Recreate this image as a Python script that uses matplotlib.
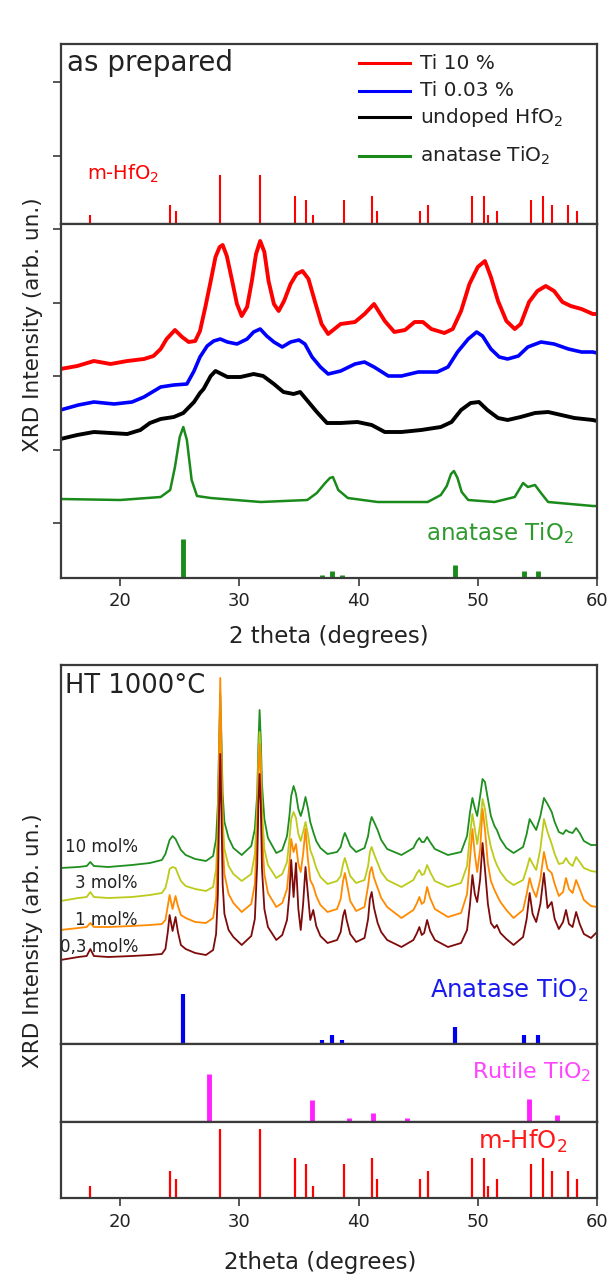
import numpy as np
import matplotlib
matplotlib.use('Agg')
import matplotlib.pyplot as plt

FIG_W, FIG_H = 609, 1277

# ---- reference patterns: 2theta (deg) and relative intensity (%) ----
HFO2_POS = [17.47, 24.16, 24.66, 28.36, 31.70, 34.63, 35.58, 36.20, 38.80, 41.09, 41.57,
            45.16, 45.81, 49.55, 50.50, 50.89, 51.65, 54.44, 55.50, 56.24, 57.56, 58.34]
HFO2_REL = [18, 39, 27, 100, 100, 58, 49, 18, 49, 58, 27,
            27, 39, 58, 58, 18, 27, 49, 58, 39, 39, 27]
ANATASE_POS = [25.28, 36.95, 37.80, 38.58, 48.05, 53.89, 55.06]
ANATASE_REL = [100, 8, 18, 8, 34, 18, 18]
RUTILE_POS = [27.45, 36.09, 39.19, 41.24, 44.05, 54.32, 56.64]
RUTILE_REL = [100, 46, 8, 19, 8, 48, 15]

# ---- as prepared powders (arb. un.) ----
TI10_2T = [15, 16.4, 17.8, 19.2, 20.6, 22.0, 22.8, 23.4, 23.9, 24.6, 25.2, 25.75, 26.3, 26.7,
           27.15, 27.6, 28.0, 28.35, 28.6, 28.95, 29.4, 29.8, 30.2, 30.65, 31.05, 31.4, 31.75,
           32.1, 32.45, 32.9, 33.3, 33.75, 34.3, 34.8, 35.3, 35.8, 36.4, 36.9, 37.45, 38.5,
           39.7, 40.5, 41.3, 42.2, 43.0, 43.9, 44.7, 45.4, 46.1, 47.2, 47.9, 48.6, 49.3, 50.0,
           50.6, 51.1, 51.7, 52.4, 53.1, 53.6, 54.3, 55.0, 55.7, 56.4, 57.1, 57.8, 58.7,
           59.65, 60]
TI10_I = [209, 212, 217, 214, 217, 219, 222, 229, 239, 248, 241, 236, 237, 247,
          271, 297, 321, 331, 333, 322, 297, 274, 262, 271, 297, 324, 337,
          326, 297, 274, 267, 277, 294, 304, 307, 299, 274, 254, 244, 254,
          256, 264, 274, 257, 246, 248, 256, 256, 249, 245, 249, 267, 294, 311,
          317, 301, 277, 257, 249, 254, 276, 287, 292, 287, 276, 272, 269,
          264, 264]

TI003_2T = [15, 16.5, 17.8, 19.5, 21, 22, 23.4, 24.5, 25.6, 26.2, 26.7, 27.3, 27.85, 28.4,
            29.0, 29.8, 30.65, 31.2, 31.75, 32.3, 32.9, 33.6, 34.3, 35.0, 35.5, 36.1, 36.8,
            37.45, 38.5, 39.7, 40.5, 41.3, 42.5, 43.6, 45.0, 46.6, 47.5, 48.3, 49.2, 49.9,
            50.4, 51.1, 51.8, 52.5, 53.4, 54.2, 55.3, 56.4, 57.6, 58.7, 59.65, 60]
TI003_I = [168, 173, 176, 174, 176, 181, 191, 193, 194, 207, 221, 232, 237, 239,
           236, 234, 239, 246, 249, 242, 236, 231, 236, 238, 234, 221, 211,
           204, 207, 214, 216, 211, 202, 202, 206, 206, 211, 226, 239, 246,
           242, 229, 221, 219, 222, 231, 236, 234, 229, 226, 226, 225]

UNDOPED_2T = [15, 16.4, 17.8, 19.2, 20.6, 21.7, 22.5, 23.4, 24.5, 25.3, 26.2, 26.7, 27.0,
              27.6, 28.0, 29.0, 30.1, 31.2, 32.0, 32.9, 33.7, 34.55, 35.1, 35.8, 36.5, 37.35,
              38.5, 39.9, 41.1, 42.2, 43.6, 45.25, 46.9, 47.8, 48.6, 49.4, 50.1, 50.8, 51.7,
              52.5, 53.6, 54.8, 55.9, 57.0, 58.1, 59.65, 60]
UNDOPED_I = [139, 143, 146, 145, 144, 148, 155, 159, 161, 165, 176, 185, 189,
             202, 207, 201, 201, 204, 202, 194, 186, 184, 186, 176, 166, 155,
             155, 156, 153, 146, 146, 148, 151, 156, 168, 175, 176, 168, 160,
             158, 161, 165, 166, 163, 160, 158, 157]

ANATASE_2T = [15, 20, 23.4, 24.2, 24.6, 25.0, 25.3, 25.6, 26.0, 26.45, 27.6, 31.8, 35.7,
              36.5, 37.2, 37.6, 37.85, 38.3, 39.1, 41.6, 45.8, 46.9, 47.4, 47.75, 48.0, 48.3,
              48.65, 49.2, 51.4, 53.1, 53.8, 54.2, 54.8, 55.3, 55.9, 59.65, 60]
ANATASE_I = [79, 78, 81, 88, 111, 141, 151, 138, 98, 82, 80, 76, 78,
             85, 95, 100, 101, 88, 80, 76, 76, 83, 92, 104, 107, 100,
             86, 78, 76, 81, 95, 91, 93, 85, 76, 72, 72]

# ---- annealed at 1000 C (arb. un.), shared 2theta grid ----
HT_2T = [15.0, 16.5, 17.2, 17.5, 17.8, 19.0, 21.0, 22.5, 23.5, 23.8,
         24.0, 24.15, 24.4, 24.65, 24.85, 25.1, 25.5, 26.3, 27.2, 27.8,
         28.05, 28.2, 28.3, 28.4, 28.5, 28.6, 28.75, 29.1, 29.5, 30.2,
         31.0, 31.3, 31.5, 31.6, 31.7, 31.8, 31.9, 32.1, 32.4, 33.1,
         33.6, 34.0, 34.2, 34.35, 34.55, 34.75, 34.95, 35.15, 35.35, 35.55,
         35.75, 35.95, 36.2, 36.45, 36.8, 37.4, 38.2, 38.5, 38.7, 38.85,
         39.0, 39.3, 39.8, 40.5, 40.8, 40.95, 41.1, 41.3, 41.6, 41.9,
         42.4, 43.6, 44.6, 44.9, 45.1, 45.3, 45.5, 45.75, 46.0, 46.4,
         47.5, 48.6, 49.1, 49.35, 49.55, 49.75, 49.95, 50.2, 50.4, 50.6,
         50.85, 51.1, 51.4, 51.6, 51.9, 52.4, 53.0, 53.8, 54.1, 54.35,
         54.6, 54.9, 55.25, 55.55, 55.85, 56.2, 56.45, 56.8, 57.15, 57.4,
         57.65, 57.95, 58.25, 58.55, 58.9, 59.5, 60.0]
HT_10 = [176, 177, 178, 182, 178, 177, 179, 181, 184, 190,
         198, 204, 208, 205, 200, 194, 189, 185, 183, 188,
         205, 240, 300, 351, 305, 250, 222, 206, 196, 189,
         198, 215, 250, 300, 334, 305, 260, 225, 206, 191,
         194, 208, 228, 248, 258, 250, 235, 228, 236, 247,
         236, 222, 212, 203, 196, 190, 192, 197, 206, 211,
         207, 198, 192, 196, 208, 220, 227, 222, 214, 204,
         195, 189, 196, 203, 206, 202, 202, 207, 202, 195,
         189, 192, 208, 232, 246, 236, 228, 248, 265, 262,
         245, 228, 218, 214, 205, 196, 191, 197, 210, 225,
         220, 214, 228, 246, 240, 232, 222, 212, 210, 214,
         212, 211, 216, 211, 203, 199, 199]
HT_3 = [143, 146, 147, 152, 147, 146, 147, 149, 151, 156,
        166, 175, 177, 176, 170, 163, 158, 155, 153, 157,
        175, 215, 280, 335, 285, 225, 195, 178, 170, 163,
        170, 190, 235, 285, 312, 285, 235, 195, 179, 166,
        170, 182, 205, 225, 232, 226, 210, 203, 212, 222,
        210, 194, 186, 176, 167, 160, 163, 168, 180, 186,
        180, 168, 161, 164, 178, 192, 197, 190, 181, 172,
        164, 157, 164, 171, 174, 169, 170, 179, 172, 163,
        157, 161, 178, 210, 230, 215, 200, 220, 245, 235,
        212, 197, 185, 179, 172, 164, 159, 164, 175, 186,
        180, 174, 195, 225, 212, 200, 190, 180, 181, 186,
        181, 178, 187, 182, 176, 173, 172]
HT_1 = [114, 116, 117, 121, 117, 117, 118, 119, 120, 124,
        138, 149, 135, 148, 138, 129, 126, 122, 121, 126,
        145, 200, 290, 366, 290, 205, 170, 150, 141, 132,
        140, 160, 215, 270, 300, 270, 210, 170, 151, 137,
        141, 155, 180, 205, 192, 200, 180, 172, 190, 215,
        185, 164, 158, 148, 139, 132, 135, 145, 163, 171,
        162, 143, 133, 137, 158, 172, 177, 166, 156, 146,
        137, 126, 134, 141, 147, 140, 142, 157, 146, 135,
        127, 131, 150, 185, 215, 190, 172, 195, 235, 215,
        180, 163, 154, 149, 142, 134, 126, 134, 150, 166,
        155, 147, 165, 192, 175, 171, 160, 148, 152, 166,
        155, 151, 164, 155, 144, 138, 137]
HT_03 = [84, 87, 88, 95, 88, 87, 88, 89, 90, 95,
         112, 129, 113, 127, 112, 99, 95, 91, 89, 94,
         110, 150, 230, 290, 230, 160, 130, 114, 107, 99,
         108, 125, 180, 240, 270, 240, 175, 135, 117, 104,
         109, 124, 150, 184, 147, 181, 135, 114, 140, 177,
         150, 124, 134, 118, 108, 101, 104, 112, 128, 134,
         124, 110, 102, 106, 125, 145, 152, 136, 121, 112,
         104, 97, 104, 111, 117, 109, 111, 124, 113, 104,
         97, 101, 114, 140, 169, 150, 142, 165, 201, 175,
         140, 121, 116, 119, 111, 105, 99, 107, 125, 151,
         130, 122, 140, 171, 136, 142, 125, 115, 122, 134,
         120, 117, 132, 120, 110, 106, 112]

plt.rcParams['font.family'] = 'DejaVu Sans'
plt.rcParams['mathtext.fontset'] = 'dejavusans'
TXT = '#222222'
FRAME = '#3a3a3a'

fig = plt.figure(figsize=(FIG_W / 100, FIG_H / 100), dpi=100)


def axes_px(top, bottom, left=60.5, right=597):
    return fig.add_axes([left / FIG_W, 1 - bottom / FIG_H,
                         (right - left) / FIG_W, (bottom - top) / FIG_H])


def frame(ax):
    for s in ax.spines.values():
        s.set_linewidth(1.6)
        s.set_color(FRAME)
    ax.set_xlim(15, 60)
    ax.tick_params(colors=FRAME, width=1.2, length=6, labelcolor=TXT, labelsize=13)


def sticks(ax, pos, rel, scale, color, lw):
    ax.vlines(pos, 0, np.array(rel) * scale, color=color, lw=lw)


# ================= as prepared =================
ax_ref = axes_px(44, 224)
ax_top = axes_px(224, 578)
for a in (ax_ref, ax_top):
    frame(a)
    a.tick_params(axis='y', direction='out', labelleft=False)

# tick spacing in the main layer is 73.5 units, first tick 55 units above the axis
ax_top.set_ylim(0, 354)
ax_top.set_yticks(55 + 73.5 * np.arange(5))
ax_top.set_xticks([20, 30, 40, 50, 60])
ax_top.tick_params(axis='x', direction='out', pad=4)

ref_top = 100 * 180 / 49
ax_ref.set_ylim(0, ref_top)
ax_ref.set_yticks(np.array([68.5, 142]) / 180 * ref_top)
ax_ref.set_xticks([])
sticks(ax_ref, HFO2_POS, HFO2_REL, 1.0, '#ff0000', 1.5)

ax_top.plot(TI10_2T, TI10_I, color='#ff0000', lw=2.8)
ax_top.plot(TI003_2T, TI003_I, color='#0000ff', lw=2.6)
ax_top.plot(UNDOPED_2T, UNDOPED_I, color='black', lw=2.8)
ax_top.plot(ANATASE_2T, ANATASE_I, color='#1a8a1a', lw=1.8)
sticks(ax_top, ANATASE_POS, ANATASE_REL, 0.39, '#1a8a1a', 3.5)

ax_ref.text(0.012, 0.895, 'as prepared', transform=ax_ref.transAxes, fontsize=20,
            color=TXT, va='center', ha='left')
ax_ref.text(0.05, 0.28, 'm-HfO$_2$', transform=ax_ref.transAxes, fontsize=14,
            color='#ff0000', va='center', ha='left')

legend_rows = [('Ti 10 %', '#ff0000', 0.894), ('Ti 0.03 %', '#0000ff', 0.739),
               ('undoped HfO$_2$', 'black', 0.594), ('anatase TiO$_2$', '#1a8a1a', 0.378)]
for label, color, yf in legend_rows:
    ax_ref.plot([0.556, 0.652], [yf, yf], transform=ax_ref.transAxes, color=color, lw=2.2)
    ax_ref.text(0.67, yf, label, transform=ax_ref.transAxes, fontsize=14.5,
                color=TXT, va='center', ha='left')

ax_top.text(0.957, 0.127, 'anatase TiO$_2$', transform=ax_top.transAxes, fontsize=16.5,
            color='#2e9a2e', ha='right', va='center')

fig.text(329 / FIG_W, 1 - 637 / FIG_H, '2 theta (degrees)', fontsize=16.5, color=TXT,
         ha='center', va='center')
fig.text(33 / FIG_W, 1 - 325 / FIG_H, 'XRD Intensity (arb. un.)', fontsize=15.5, color=TXT,
         rotation=90, ha='center', va='center')

# ================= HT 1000 C =================
ax_ht = axes_px(665, 1044)
ax_ru = axes_px(1044, 1122)
ax_hf = axes_px(1122, 1198)
for a in (ax_ht, ax_ru, ax_hf):
    frame(a)
    a.set_yticks([])

ax_ht.set_ylim(0, 379)
ax_ht.set_xticks([])
ax_ht.plot(HT_2T, HT_10, color='#1f8f1f', lw=1.3)
ax_ht.plot(HT_2T, HT_3, color='#bccb1a', lw=1.3)
ax_ht.plot(HT_2T, HT_1, color='#ff8a00', lw=1.3)
ax_ht.plot(HT_2T, HT_03, color='#7e0a0a', lw=1.3)
sticks(ax_ht, ANATASE_POS, ANATASE_REL, 0.5, '#0000ee', 3.0)

ax_ht.text(0.008, 0.945, 'HT 1000\u00b0C', transform=ax_ht.transAxes, fontsize=18.5,
           color=TXT, ha='left', va='center')
ax_ht.text(0.985, 0.142, 'Anatase TiO$_2$', transform=ax_ht.transAxes, fontsize=17.5,
           color='#1a1aee', ha='right', va='center')
series_labels = [('10 mol%', 174 + 23), ('3 mol%', 143 + 18), ('1 mol%', 114 + 10),
                 ('0,3 mol%', 84 + 13)]
for label, yv in series_labels:
    ax_ht.text(21.5, yv, label, fontsize=12, color=TXT, ha='right', va='center')

ax_ru.set_ylim(0, 78)
ax_ru.set_xticks([20, 30, 40, 50, 60])
ax_ru.tick_params(axis='x', direction='out', length=2, labelbottom=False)
sticks(ax_ru, RUTILE_POS, RUTILE_REL, 0.48, '#ff22ff', 3.5)
ax_ru.text(0.99, 0.64, 'Rutile TiO$_2$', transform=ax_ru.transAxes, fontsize=16,
           color='#ff44ff', ha='right', va='center')

ax_hf.set_ylim(0, 76)
ax_hf.set_xticks([20, 30, 40, 50, 60])
ax_hf.tick_params(axis='x', direction='out', pad=5)
sticks(ax_hf, HFO2_POS, HFO2_REL, 0.69, '#ff0000', 1.6)
ax_hf.text(0.945, 0.74, 'm-HfO$_2$', transform=ax_hf.transAxes, fontsize=17.5,
           color='#ff1a1a', ha='right', va='center')

fig.text(320 / FIG_W, 1 - 1263 / FIG_H, '2theta (degrees)', fontsize=16.5, color=TXT,
         ha='center', va='center')
fig.text(33 / FIG_W, 1 - 941 / FIG_H, 'XRD Intensity (arb. un.)', fontsize=15.5, color=TXT,
         rotation=90, ha='center', va='center')

fig.savefig('out.png', dpi=100)
